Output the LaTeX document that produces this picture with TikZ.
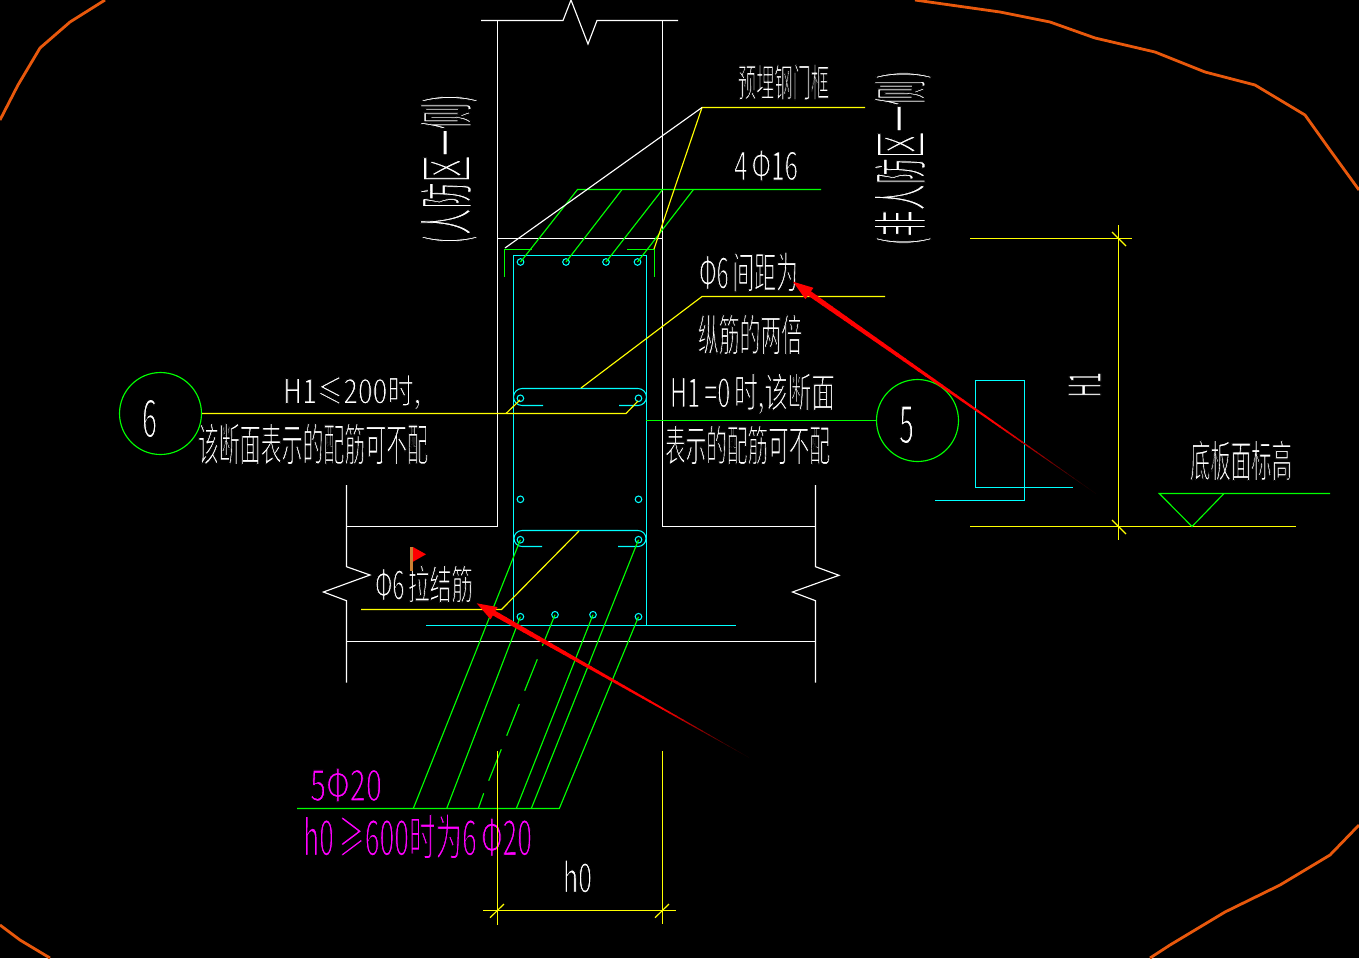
\documentclass[tikz,border=0pt]{standalone}
\usepackage{fontspec}
\usepackage{graphicx}
\setmainfont{Noto Sans CJK SC}
\definecolor{cadyellow}{RGB}{255,255,0}
\definecolor{cadgreen}{RGB}{0,255,0}
\definecolor{cadcyan}{RGB}{0,255,255}
\definecolor{cadmag}{RGB}{255,0,255}
\definecolor{cadorange}{RGB}{232,88,12}
\tikzset{
  wl/.style={white,line width=0.65pt},
  yl/.style={cadyellow,line width=0.65pt},
  gl/.style={cadgreen,line width=0.65pt},
  cl/.style={cadcyan,line width=0.6pt},
  ol/.style={cadorange,line width=1.6pt,line join=round},
  rebar/.style={cadcyan,line width=0.6pt},
  cadlabel/.style={inner sep=0pt,outer sep=0pt},
  callout/.style={circle,draw=cadgreen,line width=0.65pt,minimum size=1.64cm,inner sep=0pt}
}
% thin the glyphs: black stroke over the fill
\newcommand\thinT[1]{\special{pdf:code q 2 Tr 0 0 0 RG 0.28 w}#1\special{pdf:code Q}}
\newcommand\cadT[7]{%
  \pgfmathsetlengthmacro\cadw{(#4-#2)*0.02cm}%
  \pgfmathsetlengthmacro\cadh{(#5-#3)*0.02cm}%
  \node[cadlabel,text=#6] (#1) at ({(#2+#4)/2},{(#3+#5)/2}) {\resizebox*{\cadw}{\cadh}{\thinT{#7}}};}
\newcommand\cadR[6]{%
  \pgfmathsetlengthmacro\cadw{#4*0.02cm}%
  \pgfmathsetlengthmacro\cadh{#5*0.02cm}%
  \node[cadlabel,text=white,rotate=90] (#1) at (#2,#3) {\resizebox*{\cadw}{\cadh}{\thinT{#6}}};}
\newcommand\cadArrow[2]{%
  \foreach \i in {0,...,39}{%
    \pgfmathsetmacro\ta{\i/40}%
    \pgfmathsetmacro\tb{(\i+1.15)/40}%
    \pgfmathsetmacro\lw{max(0.25,3.0*(1-\i/40))}%
    \pgfmathsetmacro\pc{\i<26?100:max(0,100*(40-\i)/14)}%
    \definecolor{segc}{RGB}{255,0,0}%
    \draw[line width=\lw pt,color=segc!\pc!black] ($(#1)!\ta!(#2)$) -- ($(#1)!\tb!(#2)$);
  }}
\usetikzlibrary{calc}
\begin{document}
\begin{tikzpicture}[x=0.02cm,y=-0.02cm]
\useasboundingbox (0,0) rectangle (1359,958);
\fill[black] (0,0) rectangle (1359,958);
% outer revision cloud
\draw[ol] (0,120) -- (18,85) -- (40,48) -- (70,22) -- (105,0);
\draw[ol] (915,0) -- (1000,12) -- (1050,22) -- (1095,38) -- (1155,52) -- (1205,72) -- (1255,85) -- (1305,115) -- (1330,150) -- (1359,190);
\draw[ol] (1359,825) -- (1330,855) -- (1280,885) -- (1225,912) -- (1170,945) -- (1150,958);
\draw[ol] (0,925) -- (20,940) -- (50,958);
% wall and slab
\draw[wl] (481,20.5) -- (563,20.5) -- (571,0) -- (588,44) -- (597,20.5) -- (678,20.5);
\draw[wl] (497.5,20.5) -- (497.5,526.5) -- (346.5,526.5);
\draw[wl] (662.5,20.5) -- (662.5,526.5) -- (815.5,526.5);
\draw[wl] (497.5,238.5) -- (662.5,238.5);
\draw[wl] (346.5,485) -- (346.5,566.7) -- (370,575) -- (323.4,592) -- (346.5,600.7) -- (346.5,682.7);
\draw[wl] (815.5,485) -- (815.5,566.7) -- (839,575.3) -- (792.5,592) -- (815.5,600.7) -- (815.5,682.7);
\draw[wl] (346.5,641.5) -- (815.5,641.5);
% cyan stirrup
\draw[cl] (513.5,625.5) -- (513.5,255.5) -- (646.5,255.5) -- (646.5,625.5);
\draw[cl] (426,625.5) -- (735.6,625.5);
\draw[cl] (543,405.5) -- (522,405.5) arc[start angle=90,end angle=270,radius=8.5] -- (638,388.5) arc[start angle=270,end angle=450,radius=8.5] -- (619,405.5);
\draw[cl] (542,546.5) -- (522,546.5) arc[start angle=90,end angle=270,radius=8] -- (638,530.5) arc[start angle=270,end angle=450,radius=8] -- (618,546.5);
\foreach \p in {(520.5,262),(566,262),(606,262),(637.5,262),(520.4,398.3),(638.5,398.3),(520.4,499.3),(638.5,499.3),(520.4,539.7),(638.5,539.7),(520.4,616.7),(555,614.7),(593,614.7),(638.5,616.7)}
  \draw[rebar] \p circle[radius=3.3];
% top green bars
\draw[gl] (504.5,277) -- (504.5,249.5) -- (532,249.5);
\draw[gl] (627,249.5) -- (654.5,249.5) -- (654.5,277);
\draw[gl] (821,189.5) -- (577.5,189.5) -- (520.5,262);
\draw[gl] (622,189.5) -- (566,262);
\draw[gl] (662.5,189.5) -- (606,262);
\draw[gl] (693.5,189.5) -- (637.5,262);
% bottom green bars
\draw[gl] (297,808.5) -- (559.3,808.5) -- (638.5,616.7);
\draw[gl] (413.3,808.5) -- (520.4,539.7);
\draw[gl] (446.7,808.5) -- (520.4,616.7);
\draw[gl] (516.3,808.5) -- (593,614.7);
\draw[gl] (531.3,808.5) -- (638.5,539.7);
\draw[gl] (555,614.7) -- (542.3,646);
\draw[gl] (537.3,659.3) -- (524.7,690.7);
\draw[gl] (519.3,704) -- (506.7,735.7);
\draw[gl] (501.3,749.3) -- (488.7,780.7);
\draw[gl] (483.7,793.3) -- (478.3,808.5);
% texts
\cadT{tFrame}{738}{64}{829}{100}{white}{预埋钢门框}
\cadT{tBar}{734}{150}{798}{181}{white}{4\,Φ16}
\cadT{tSpace}{699}{252}{798}{292}{white}{Φ6\,间距为}
\cadT{tDouble}{698}{314}{802}{355}{white}{纵筋的两倍}
\cadT{tH200}{283}{375}{421}{410}{white}{H1≤200时,}
\cadT{tNoA}{198}{423}{428}{465}{white}{该断面表示的配筋可不配}
\cadT{tH0}{670}{373}{835}{415}{white}{H1\,=0\,时,该断面}
\cadT{tNoB}{665}{425}{830}{465}{white}{表示的配筋可不配}
\cadT{tTie}{375}{565}{473}{603}{white}{Φ6\,拉结筋}
\cadT{tFloor}{1190}{440}{1292}{481}{white}{底板面标高}
\cadT{tMagA}{310}{768}{382}{802}{cadmag}{5Φ20}
\cadT{tMagB}{303}{814}{532}{859}{cadmag}{h0\,≥600时为6\,Φ20}
\cadT{th}{563}{860}{592}{893}{white}{h0}
\cadT{t6}{142}{399}{157}{438}{white}{6}
\cadT{t5}{899}{406}{914}{444}{white}{5}
\cadR{tLeft}{449}{169}{150}{58}{(人防区一侧)}
\cadR{tRight}{903}{158}{175}{58}{(非人防区一侧)}
\cadR{tHone}{1084.5}{384.5}{25}{33}{H1}
% yellow leaders
\draw[yl] (865,107.5) -- (702,107.5) -- (654,249);
\draw[wl] (702,107.5) -- (505,248);
\draw[yl] (885,296.5) -- (702,296.5) -- (581,388);
\draw[yl] (579,531) -- (501.5,609.5) -- (361,609.5);
% callouts
\node[callout] (c6) at (160.5,413.5) {};
\node[callout] (c5) at (917.5,420.5) {};
\coordinate (lead6) at (626,413.5);
\draw[yl] (c6.east) -- (lead6) -- (638,401);
\draw[yl] (506,413.5) -- (520,400);
\draw[gl] (645.5,420.5) -- (c5.west);
% h0 dimension
\draw[yl] (497.5,751) -- (497.5,924.7);
\draw[yl] (662.5,751) -- (662.5,923.7);
\draw[yl] (483,910.5) -- (675.7,910.5);
\draw[yl] (490,917.7) -- (504,904);
\draw[yl] (655,917.7) -- (669,904);
% H1 dimension
\draw[yl] (1118.5,225) -- (1118.5,540);
\draw[yl] (970,238.5) -- (1132,238.5);
\draw[yl] (970,526.5) -- (1295.7,526.5);
\draw[yl] (1112,232) -- (1126,246);
\draw[yl] (1112,520) -- (1126,534);
% small section symbol
\draw[cl] (975.5,380.5) rectangle (1024.5,487.5);
\draw[cl] (1024.5,487.5) -- (1072.7,487.5);
\draw[cl] (1024.5,487.5) -- (1024.5,500.5) -- (935,500.5);
% level mark
\draw[gl] (1330,493.5) -- (1159.3,493.5) -- (1192,526.5) -- (1224,493.5);
% flag
\fill[red] (413,547) -- (426,554.3) -- (413,561.7) -- cycle;
\fill[brown!80!orange] (410.2,547) rectangle (413,571);
% red arrows
\coordinate (rA) at (801,287.5);
\coordinate (rAend) at (1095,493);
\coordinate (rB) at (485,608);
\coordinate (rBend) at (748,757);
\cadArrow{rA}{rAend}
\cadArrow{rB}{rBend}
\fill[red] (793,281.7) -- (805.4,299.2) -- (813.4,287.8) -- cycle;
\fill[red] (476.7,603.3) -- (490.6,619.3) -- (497.5,607.1) -- cycle;
\end{tikzpicture}
\end{document}
